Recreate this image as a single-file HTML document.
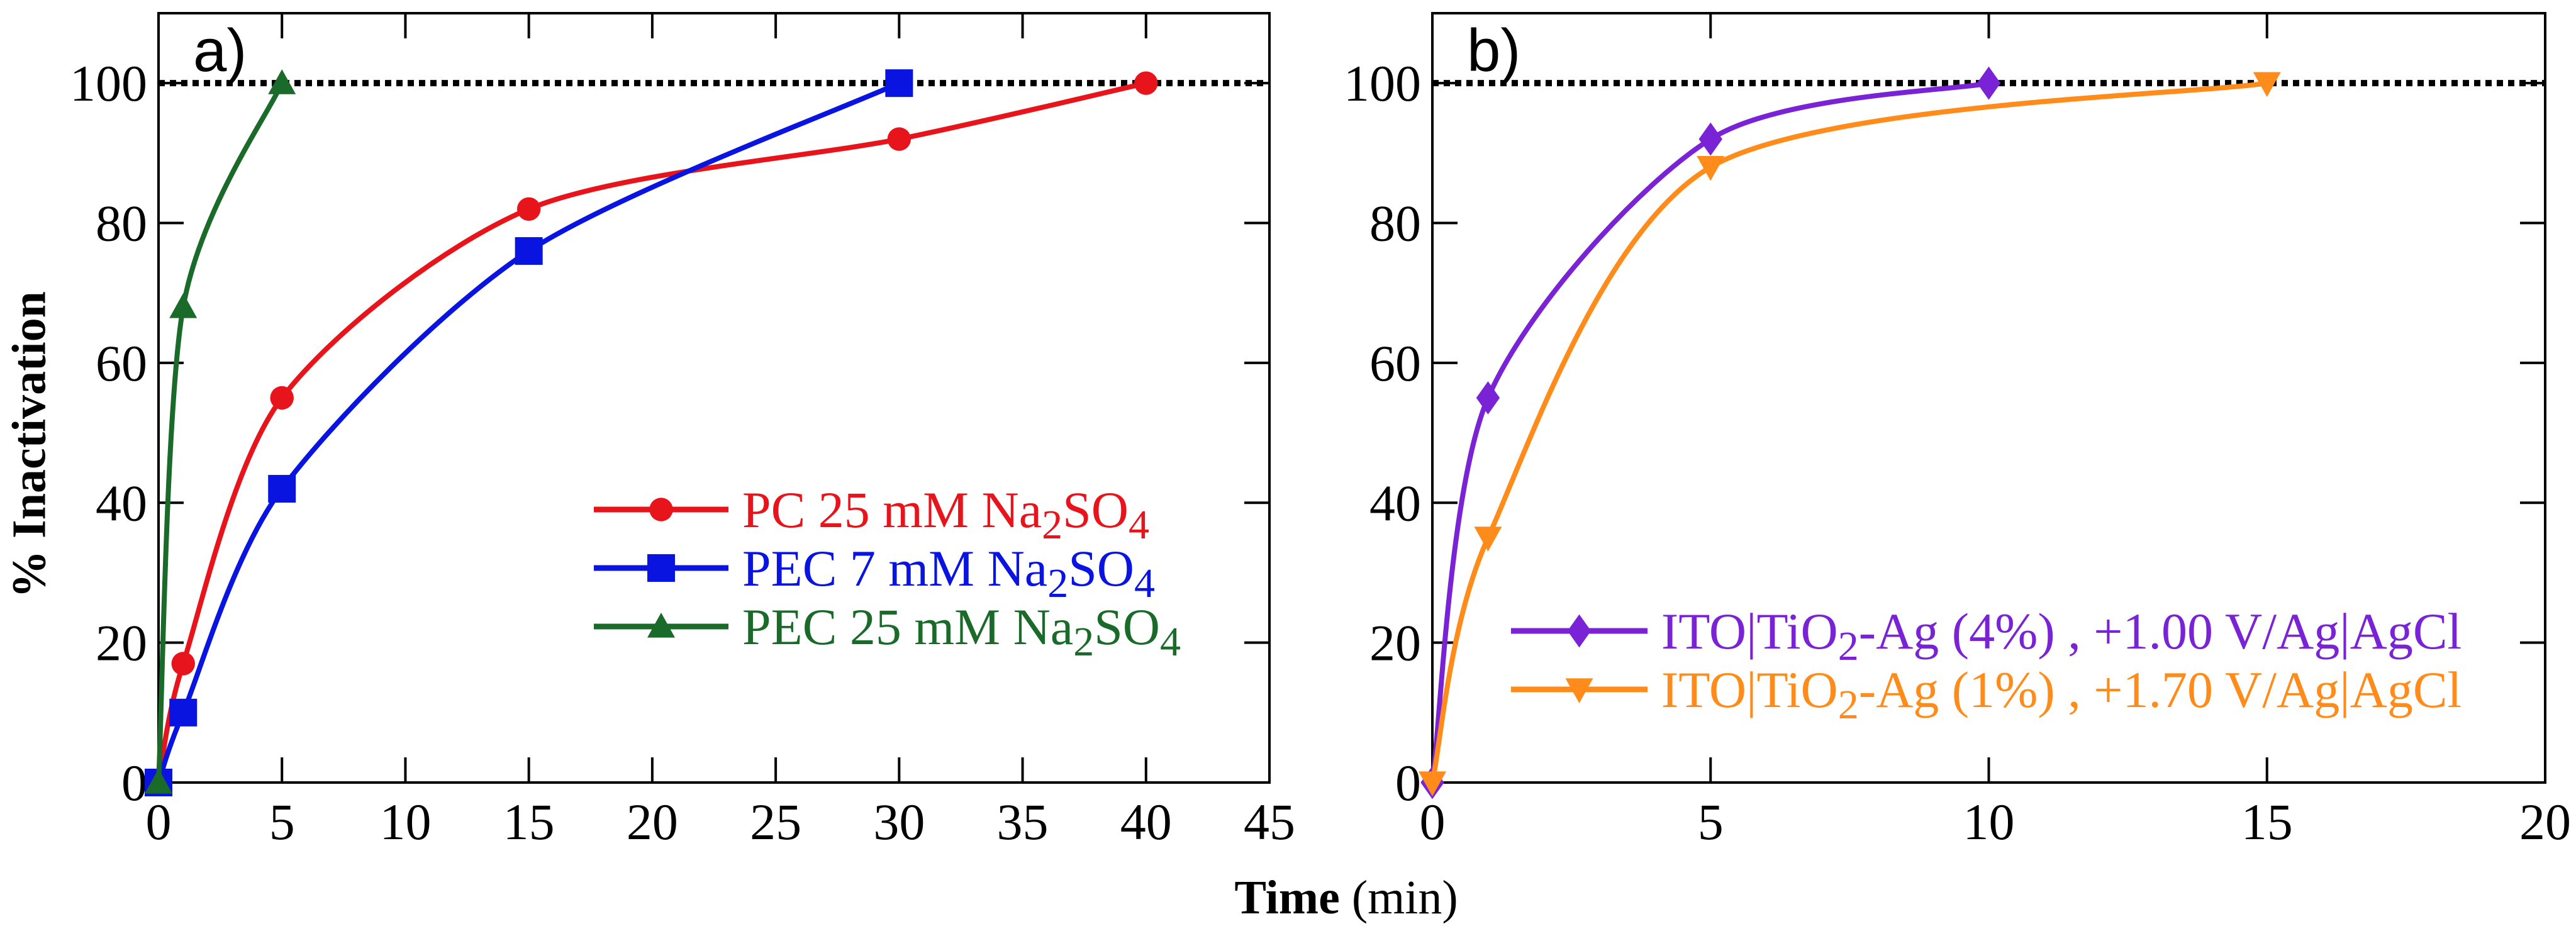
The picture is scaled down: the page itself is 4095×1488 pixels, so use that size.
<!DOCTYPE html>
<html><head><meta charset="utf-8"><style>
html,body{margin:0;padding:0;background:#fff}
svg{display:block}
text{font-family:"Liberation Serif",serif}
text.sans{font-family:"Liberation Sans",sans-serif}
</style></head><body>
<svg id="chart" width="4095" height="1488" viewBox="0 0 4095 1488" xmlns="http://www.w3.org/2000/svg">
<text x="54" y="707" transform="rotate(-90 54 707)" text-anchor="middle" dominant-baseline="middle" font-size="76" font-weight="bold">% Inactivation</text>
<text x="2140" y="1452" text-anchor="middle" font-size="76"><tspan font-weight="bold">Time</tspan> (min)</text>
<g id="pa"></g>
<g id="pb"></g>
</svg>
<script>
// Panel a data
const aPCx = [0, 1, 5, 15, 30, 40];
const aPCy = [0, 17, 55, 82, 92, 100];
const aPEC7x = [0, 1, 5, 15, 30];
const aPEC7y = [0, 10, 42, 76, 100];
const aPEC25x = [0, 1, 5];
const aPEC25y = [0, 68, 100];
const aXTicks = [0, 5, 10, 15, 20, 25, 30, 35, 40, 45];
// Panel b data
const bAg4x = [0, 1, 5, 10];
const bAg4y = [0, 55, 92, 100];
const bAg1x = [0, 1, 5, 15];
const bAg1y = [0, 35, 88, 100];
const bXTicks = [0, 5, 10, 15, 20];
const yTicks = [0, 20, 40, 60, 80, 100];

const NS = "http://www.w3.org/2000/svg";
function mk(tag, attrs, parent){const e=document.createElementNS(NS,tag);for(const k in attrs)e.setAttribute(k,attrs[k]);parent.appendChild(e);return e;}

function panel(g, L, R, T, B, xmax, xticks, label, series, legend){
  const ymax = 110;
  const sx = v => L + (R-L)*v/xmax;
  const sy = v => B - (B-T)*v/ymax;
  const frame = mk('rect',{x:L,y:T,width:R-L,height:B-T,fill:'none',stroke:'#000','stroke-width':4},g);
  
  
  xticks.forEach(t=>{
    const x=sx(t);
    mk('line',{x1:x,y1:B,x2:x,y2:B-40,stroke:'#000','stroke-width':4},g);
    mk('line',{x1:x,y1:T,x2:x,y2:T+40,stroke:'#000','stroke-width':4},g);
    const tl=mk('text',{x:x,y:B+90,'text-anchor':'middle','font-size':82},g);
    tl.textContent=t;
    
    
  });
  yTicks.forEach(t=>{
    const y=sy(t);
    mk('line',{x1:L,y1:y,x2:L+40,y2:y,stroke:'#000','stroke-width':4},g);
    mk('line',{x1:R,y1:y,x2:R-40,y2:y,stroke:'#000','stroke-width':4},g);
    const tl=mk('text',{x:L-18,y:y+28,'text-anchor':'end','font-size':82},g);
    tl.textContent=t;
    
    
  });
  const ref=mk('line',{x1:L,y1:sy(100),x2:R,y2:sy(100),stroke:'#000','stroke-width':10,'stroke-dasharray':'10 8'},g);
  
  
  const pl=mk('text',{x:L+55,y:T+92,'font-size':96,'class':'sans'},g);
  pl.textContent=label;
  
  
  series.forEach(s=>{
    const pts=s.x.map((v,i)=>[sx(v),sy(s.y[i])]);
    let d='M'+pts[0][0]+','+pts[0][1];
    for(let i=0;i<pts.length-1;i++){
      const p0=pts[Math.max(0,i-1)],p1=pts[i],p2=pts[i+1],p3=pts[Math.min(pts.length-1,i+2)];
      const t=0.14;
      const c1=[p1[0]+(p2[0]-p0[0])*t,p1[1]+(p2[1]-p0[1])*t];
      const c2=[p2[0]-(p3[0]-p1[0])*t,p2[1]-(p3[1]-p1[1])*t];
      d+=' C'+c1[0]+','+c1[1]+' '+c2[0]+','+c2[1]+' '+p2[0]+','+p2[1];
    }
    const path=mk('path',{d:d,fill:'none',stroke:s.c,'stroke-width':8},g);
    
    
    pts.forEach(p=>{
      const m=marker(g,s.m,p[0],p[1],s.c,22);
      
      
    });
  });
  legend.items.forEach((it,i)=>{
    const y=legend.y+i*legend.dy;
    const ll=mk('line',{x1:legend.x1,y1:y,x2:legend.x2,y2:y,stroke:it.c,'stroke-width':9},g);
    
    
    const lm=marker(g,it.m,(legend.x1+legend.x2)/2,y,it.c,22);
    
    
    const tx=mk('text',{x:legend.x2+22,y:y+28,'font-size':82,fill:it.c},g);
    tx.innerHTML=it.html;
    
    
  });
}
function marker(g,type,x,y,c,r){
  if(type==='circle') return mk('circle',{cx:x,cy:y,r:r*0.85,fill:c},g);
  if(type==='square') return mk('rect',{x:x-r,y:y-r,width:2*r,height:2*r,fill:c},g);
  if(type==='tri') return mk('polygon',{points:`${x},${y-r} ${x+r},${y+r*0.8} ${x-r},${y+r*0.8}`,fill:c},g);
  if(type==='dtri') return mk('polygon',{points:`${x},${y+r} ${x+r},${y-r*0.8} ${x-r},${y-r*0.8}`,fill:c},g);
  return mk('polygon',{points:`${x},${y-r*1.2} ${x+r*0.85},${y} ${x},${y+r*1.2} ${x-r*0.85},${y}`,fill:c},g);
}
const sub=(s)=>`<tspan dy="18" font-size="66">${s}</tspan><tspan dy="-18">`;
panel(document.getElementById('pa'),252,2018,21,1244,45,aXTicks,'a)',[
  {name:'pc-25mm',x:aPCx,y:aPCy,c:'#e8141c',m:'circle'},
  {name:'pec-7mm',x:aPEC7x,y:aPEC7y,c:'#0a14e0',m:'square'},
  {name:'pec-25mm',x:aPEC25x,y:aPEC25y,c:'#1a6b2a',m:'tri'}
],{x1:944,x2:1158,y:810,dy:93,items:[
  {c:'#e8141c',m:'circle',html:'PC 25 mM Na'+sub('2')+'SO'+sub('4')+'</tspan>'},
  {c:'#0a14e0',m:'square',html:'PEC 7 mM Na'+sub('2')+'SO'+sub('4')+'</tspan>'},
  {c:'#1a6b2a',m:'tri',html:'PEC 25 mM Na'+sub('2')+'SO'+sub('4')+'</tspan>'}
]});
panel(document.getElementById('pb'),2277,4046,21,1244,20,bXTicks,'b)',[
  {name:'ag-4pct',x:bAg4x,y:bAg4y,c:'#7a22d6',m:'diamond'},
  {name:'ag-1pct',x:bAg1x,y:bAg1y,c:'#ff8c1a',m:'dtri'}
],{x1:2402,x2:2619,y:1003,dy:93,items:[
  {c:'#7a22d6',m:'diamond',html:'ITO|TiO'+sub('2')+'-Ag (4%) , +1.00 V/Ag|AgCl</tspan>'},
  {c:'#ff8c1a',m:'dtri',html:'ITO|TiO'+sub('2')+'-Ag (1%) , +1.70 V/Ag|AgCl</tspan>'}
]});
</script>
</body></html>
